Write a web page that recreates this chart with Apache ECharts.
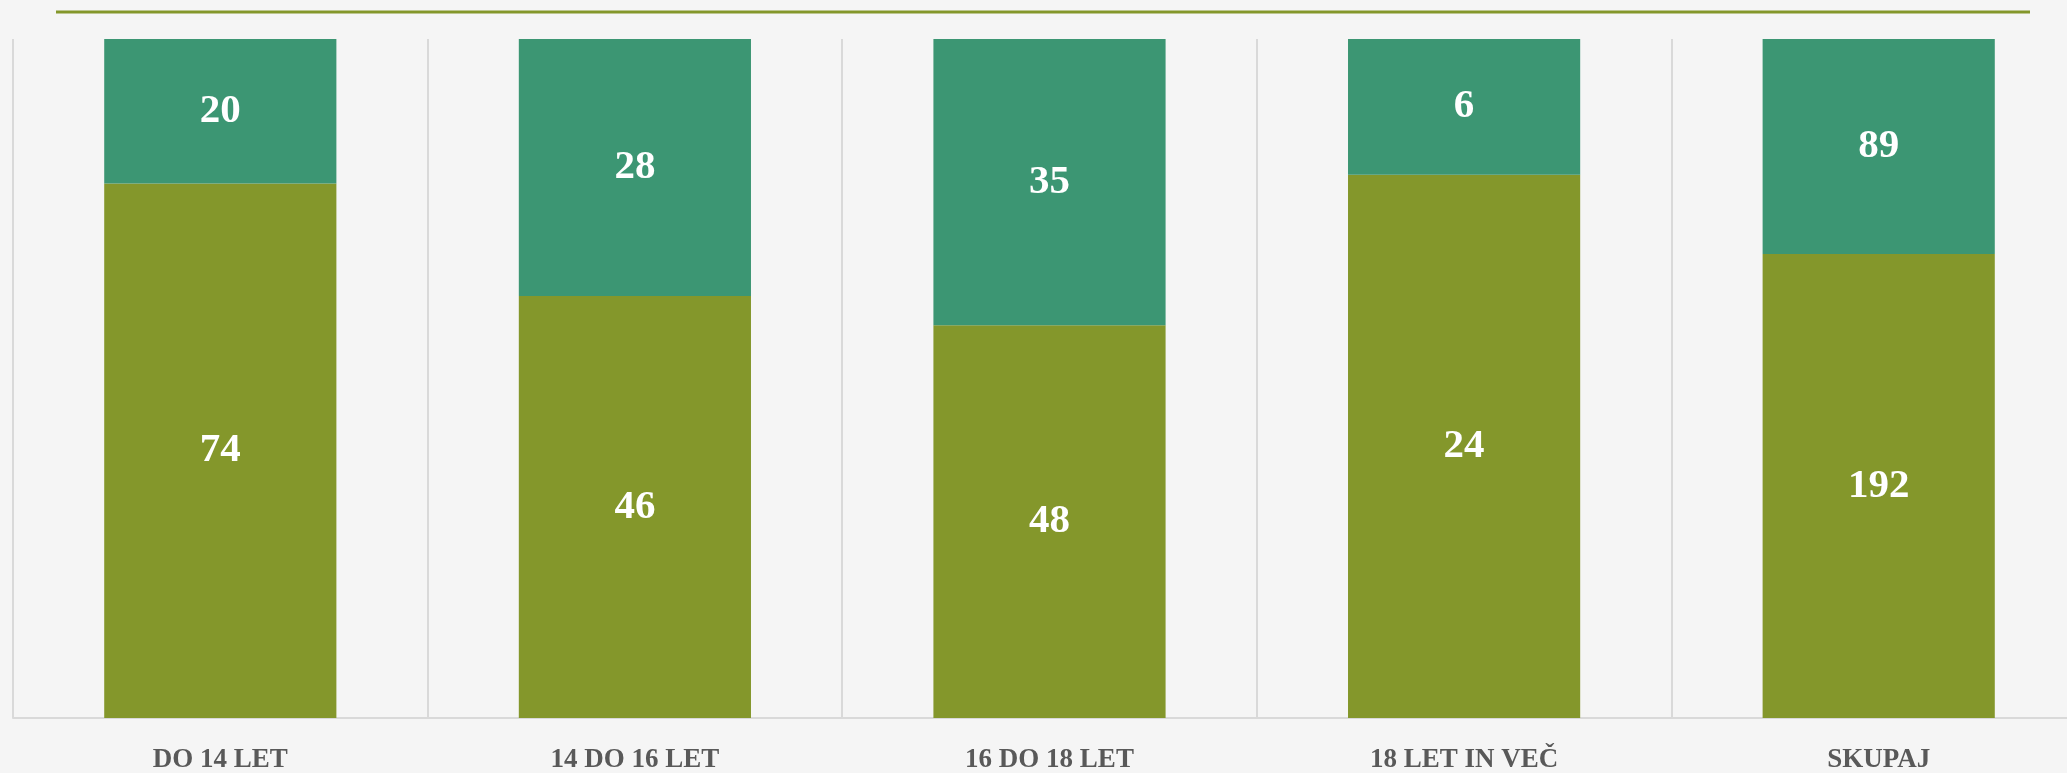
<!DOCTYPE html>
<html>
<head>
<meta charset="utf-8">
<script src="https://cdn.jsdelivr.net/npm/echarts@6/dist/echarts.min.js"></script>
<style>
html,body{margin:0;padding:0;background:#f5f5f5;}
#chart{width:2067px;height:773px;}
</style>
</head>
<body>
<div id="chart"></div>
<script>
var categories = ['DO 14 LET', '14 DO 16 LET', '16 DO 18 LET', '18 LET IN VEČ', 'SKUPAJ'];
var bottomValues = [74, 46, 48, 24, 192];
var topValues = [20, 28, 35, 6, 89];

function pct(arr, i) {
  var total = bottomValues[i] + topValues[i];
  return { value: arr[i] / total * 100, raw: arr[i] };
}
var bottomData = bottomValues.map(function (v, i) { return pct(bottomValues, i); });
var topData = topValues.map(function (v, i) { return pct(topValues, i); });

var labelStyle = {
  show: true,
  position: 'inside',
  color: '#ffffff',
  fontFamily: 'Liberation Serif',
  fontStyle: 'condensed',
  fontWeight: 'bold',
  fontSize: 41,
  formatter: function (p) { return p.data.raw; }
};

var chart = echarts.init(document.getElementById('chart'));
chart.setOption({
  backgroundColor: '#f5f5f5',
  animation: false,
  grid: { left: 13, top: 39, bottom: 55, width: 2073, outerBoundsMode: 'none', containLabel: false },
  graphic: [{
    type: 'line',
    shape: { x1: 56, y1: 12, x2: 2030, y2: 12 },
    style: { stroke: '#84972b', lineWidth: 3 }
  }],
  xAxis: {
    type: 'category',
    data: categories,
    axisLine: { show: true, lineStyle: { color: '#d9d9d9', width: 2 } },
    axisTick: { show: false },
    splitLine: { show: true, lineStyle: { color: '#d9d9d9', width: 2 } },
    axisLabel: {
      color: '#595959',
      fontFamily: 'Liberation Serif',
      fontStyle: 'condensed',
      fontWeight: 'bold',
      fontSize: 27,
      margin: 29
    }
  },
  yAxis: {
    type: 'value',
    min: 0,
    max: 100,
    show: false,
    splitLine: { show: false }
  },
  series: [{
    type: 'bar',
    stack: 'total',
    barWidth: '56%',
    itemStyle: { color: '#84972b' },
    label: labelStyle,
    data: bottomData
  }, {
    type: 'bar',
    stack: 'total',
    barWidth: '56%',
    itemStyle: { color: '#3c9673' },
    label: labelStyle,
    data: topData
  }]
});
</script>
</body>
</html>
